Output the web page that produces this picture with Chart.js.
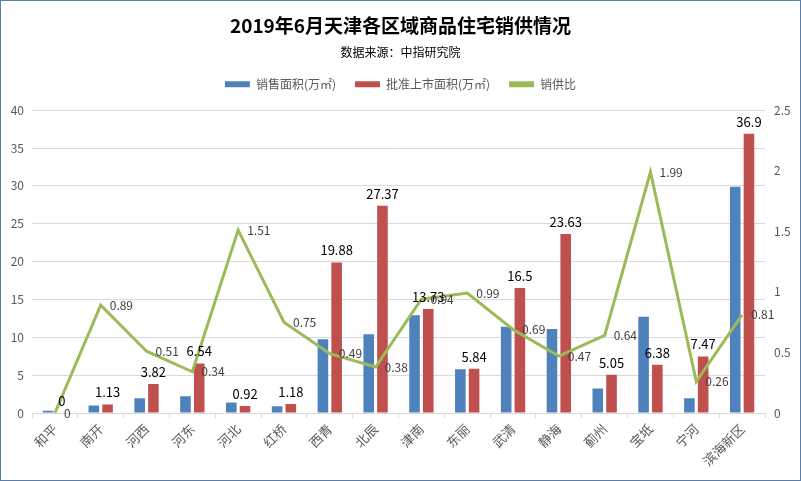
<!DOCTYPE html>
<html>
<head>
<meta charset="utf-8">
<script src="https://cdn.jsdelivr.net/npm/chart.js@4"></script>
<style>
  html, body { margin: 0; padding: 0; background: #fff; }
  canvas { display: block; }
</style>
</head>
<body>
<canvas id="chart" width="801" height="481"></canvas>
<script>
const districts = ['和平','南开','河西','河东','河北','红桥','西青','北辰','津南','东丽','武清','静海','蓟州','宝坻','宁河','滨海新区'];
const salesArea = [0.3, 1.0, 1.95, 2.22, 1.39, 0.89, 9.74, 10.4, 12.9, 5.78, 11.4, 11.1, 3.23, 12.7, 1.94, 29.9];
const supplyArea = [0, 1.13, 3.82, 6.54, 0.92, 1.18, 19.88, 27.37, 13.73, 5.84, 16.5, 23.63, 5.05, 6.38, 7.47, 36.9];
const ratio = [0, 0.89, 0.51, 0.34, 1.51, 0.75, 0.49, 0.38, 0.94, 0.99, 0.69, 0.47, 0.64, 1.99, 0.26, 0.81];

const FONT = '"Noto Sans CJK SC", "Microsoft YaHei", sans-serif';

// 背景 + 边框
const frame = {
  id: 'frame',
  beforeDraw(chart) {
    const c = chart.ctx;
    c.save();
    c.fillStyle = '#fff';
    c.fillRect(0, 0, chart.width, chart.height);
    c.restore();
  },
  afterDraw(chart) {
    const c = chart.ctx;
    c.save();
    c.strokeStyle = '#5b7fa8';
    c.lineWidth = 1;
    c.strokeRect(0.5, 0.5, chart.width - 1, chart.height - 1);
    c.restore();
  }
};

// 图例和绘图区之间留一点空
const spacer = {
  id: 'spacer',
  beforeInit(chart) {
    Chart.layouts.addBox(chart, {
      position: 'top', weight: 0, fullSize: true, options: {},
      left: 0, top: 0, right: 0, bottom: 0, width: 0, height: 0,
      isHorizontal() { return true; },
      update(maxWidth) { this.width = maxWidth; this.height = 10; },
      getPadding() { return { left: 0, top: 0, right: 0, bottom: 0 }; },
      draw() {}
    });
  }
};

// 数据标签: 批准上市面积 + 销供比
const labels = {
  id: 'labels',
  afterDatasetsDraw(chart) {
    const c = chart.ctx;
    c.save();
    c.font = '13px ' + FONT;
    c.fillStyle = '#000';
    c.textAlign = 'center';
    c.textBaseline = 'middle';
    chart.getDatasetMeta(1).data.forEach((bar, i) => {
      c.fillText(String(supplyArea[i]), bar.x, bar.y - 12);
    });
    c.font = '12px ' + FONT;
    c.fillStyle = '#404040';
    c.textAlign = 'left';
    chart.getDatasetMeta(2).data.forEach((pt, i) => {
      c.fillText(String(ratio[i]), pt.x + 9, pt.y);
    });
    c.restore();
  }
};

new Chart(document.getElementById('chart'), {
  type: 'bar',
  data: {
    labels: districts,
    datasets: [
      { label: '销售面积(万㎡)', data: salesArea, backgroundColor: '#4f81bd', yAxisID: 'y', barPercentage: 0.77, categoryPercentage: 0.6 },
      { label: '批准上市面积(万㎡)', data: supplyArea, backgroundColor: '#c0504d', yAxisID: 'y', barPercentage: 0.77, categoryPercentage: 0.6 },
      { type: 'line', label: '销供比', data: ratio, borderColor: '#9bbb59', backgroundColor: '#9bbb59', borderWidth: 3, pointRadius: 0, tension: 0, yAxisID: 'y1', order: -1 }
    ]
  },
  options: {
    responsive: false,
    animation: false,
    plugins: {
      title: { display: true, text: '2019年6月天津各区域商品住宅销供情况', color: '#000', font: { family: FONT, size: 19, weight: 'bold' }, padding: { top: 14, bottom: 8 } },
      subtitle: { display: true, text: '数据来源：中指研究院', color: '#000', font: { family: FONT, size: 12 }, padding: { top: 0, bottom: 0 } },
      legend: {
        labels: {
          sort: (a, b) => a.datasetIndex - b.datasetIndex,
          color: '#595959', font: { family: FONT, size: 12 }, boxWidth: 25, boxHeight: 6, padding: 19,
          generateLabels(chart) {
            const items = Chart.defaults.plugins.legend.labels.generateLabels(chart);
            items.forEach(it => { it.lineWidth = 0; });
            return items;
          }
        }
      },
      tooltip: { enabled: false }
    },
    scales: {
      x: {
        grid: { drawOnChartArea: false, color: '#d9d9d9', tickLength: 5 },
        border: { color: '#d9d9d9' },
        ticks: { color: '#595959', font: { family: FONT, size: 13 }, minRotation: 45, maxRotation: 45, autoSkip: false },
        afterFit(s) { s.height = 68; }
      },
      y: {
        position: 'left', min: 0, max: 40,
        ticks: { stepSize: 5, color: '#595959', font: { family: FONT, size: 12 }, padding: 8 },
        grid: { color: '#d9d9d9', drawTicks: false },
        border: { display: false },
        afterFit(s) { s.width = 32; }
      },
      y1: {
        position: 'right', min: 0, max: 2.5,
        ticks: { stepSize: 0.5, color: '#595959', font: { family: FONT, size: 12 }, padding: 9, callback: v => String(v) },
        grid: { drawOnChartArea: false, drawTicks: false },
        border: { display: false },
        afterFit(s) { s.width = 36; }
      }
    }
  },
  plugins: [frame, spacer, labels]
});
</script>
</body>
</html>
